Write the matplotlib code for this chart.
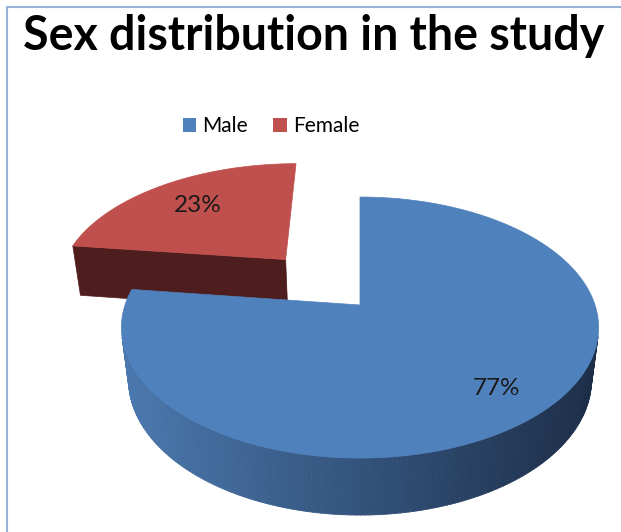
import numpy as np
import matplotlib.pyplot as plt
from matplotlib.patches import Polygon, Patch
from matplotlib.collections import PolyCollection
from matplotlib.colors import to_rgb

plt.rcParams["font.family"] = ["Lato", "DejaVu Sans"]

title = "Sex distribution in the study"
labels = ["Male", "Female"]
shares = [77, 23]
top_colors = ["#4f81bd", "#c0504d"]
side_light = ["#4a78ae", "#4e1d1d"]
side_dark = ["#1c2d47", "#4e1d1d"]
explode = [0.0, 0.51]
label_r = [0.79, 0.7]

# fake 3d pie: tilted disc seen in perspective, drawn in pixel coords
W, H = 621, 532
cx, cy = 360, 305
k = 235
elev = np.radians(32.6)
dist = 4.88
depth = 0.27
cam = np.array([0.0, -dist * np.cos(elev), dist * np.sin(elev)])


def proj(x, y, z):
    d = y * np.cos(elev) - z * np.sin(elev)
    s = dist / (dist + d)
    v = y * np.sin(elev) + z * np.cos(elev)
    return cx + k * x * s, cy - k * v * s


def facing(n, p):
    return np.dot(n, cam - p) > 0


fig = plt.figure(figsize=(W / 100, H / 100), dpi=100)
ax = fig.add_axes([0, 0, 1, 1])
ax.set_xlim(0, W)
ax.set_ylim(H, 0)
ax.axis("off")

# slices go clockwise from 12 o'clock
total = sum(shares)
starts = []
a = 90.0
for v in shares:
    a_end = a - 360.0 * v / total
    starts.append((a_end, a))
    a = a_end

# exploded (back) slice first
order = [1, 0]

for i in order:
    lo, hi = starts[i]
    mid = np.radians((lo + hi) / 2)
    ox, oy = explode[i] * np.cos(mid), explode[i] * np.sin(mid)
    th = np.radians(np.linspace(lo, hi, 300))

    # front cut face of the pulled-out slice
    if explode[i] > 0:
        ang = np.radians(hi)
        n = np.array([-np.sin(ang), np.cos(ang), 0.0])
        p = np.array([ox + 0.5 * np.cos(ang), oy + 0.5 * np.sin(ang), -depth / 2])
        if facing(n, p):
            pts = [proj(ox, oy, 0), proj(ox + np.cos(ang), oy + np.sin(ang), 0),
                   proj(ox + np.cos(ang), oy + np.sin(ang), -depth), proj(ox, oy, -depth)]
            ax.add_patch(Polygon(pts, closed=True, fc=side_dark[i], ec=side_dark[i], lw=0.5))

    # outer wall
    quads, cols = [], []
    c1, c2 = np.array(to_rgb(side_light[i])), np.array(to_rgb(side_dark[i]))
    for t0, t1 in zip(th[:-1], th[1:]):
        tm = (t0 + t1) / 2
        n = np.array([np.cos(tm), np.sin(tm), 0.0])
        p = np.array([ox + np.cos(tm), oy + np.sin(tm), -depth / 2])
        if not facing(n, p):
            continue
        q = [proj(ox + np.cos(t0), oy + np.sin(t0), 0), proj(ox + np.cos(t1), oy + np.sin(t1), 0),
             proj(ox + np.cos(t1), oy + np.sin(t1), -depth), proj(ox + np.cos(t0), oy + np.sin(t0), -depth)]
        f = np.clip((q[0][0] - 123) / (600 - 123), 0, 1)
        quads.append(q)
        cols.append(c1 * (1 - f) + c2 * f)
    if quads:
        ax.add_collection(PolyCollection(quads, facecolors=cols, edgecolors=cols, linewidths=0.6))

    # top
    top = [proj(ox, oy, 0)] + [proj(ox + np.cos(t), oy + np.sin(t), 0) for t in th]
    ax.add_patch(Polygon(top, closed=True, fc=top_colors[i], ec=top_colors[i], lw=0.5))

    # percent label
    r = label_r[i]
    lx, ly = proj(ox + r * np.cos(mid), oy + r * np.sin(mid), 0)
    ax.text(lx, ly, f"{shares[i]}%", ha="center", va="center", fontsize=17.5, color="#1a1a1a")

ax.text(314, 50, title, ha="center", va="baseline", fontsize=33.5, fontweight="bold", color="black")

handles = [Patch(fc=c, ec="none") for c in top_colors]
ax.legend(handles, labels, loc="center", bbox_to_anchor=(271 / W, 1 - 126 / H), ncol=2,
          frameon=False, prop={"family": "Lato", "size": 15}, handlelength=0.65,
          handleheight=0.65, handletextpad=0.3, columnspacing=1.2)

# chart frame
ax.plot([7, 7, W], [H, 7, 7], color="#95b3d7", lw=1.5)

fig.savefig("out.png", dpi=100)
